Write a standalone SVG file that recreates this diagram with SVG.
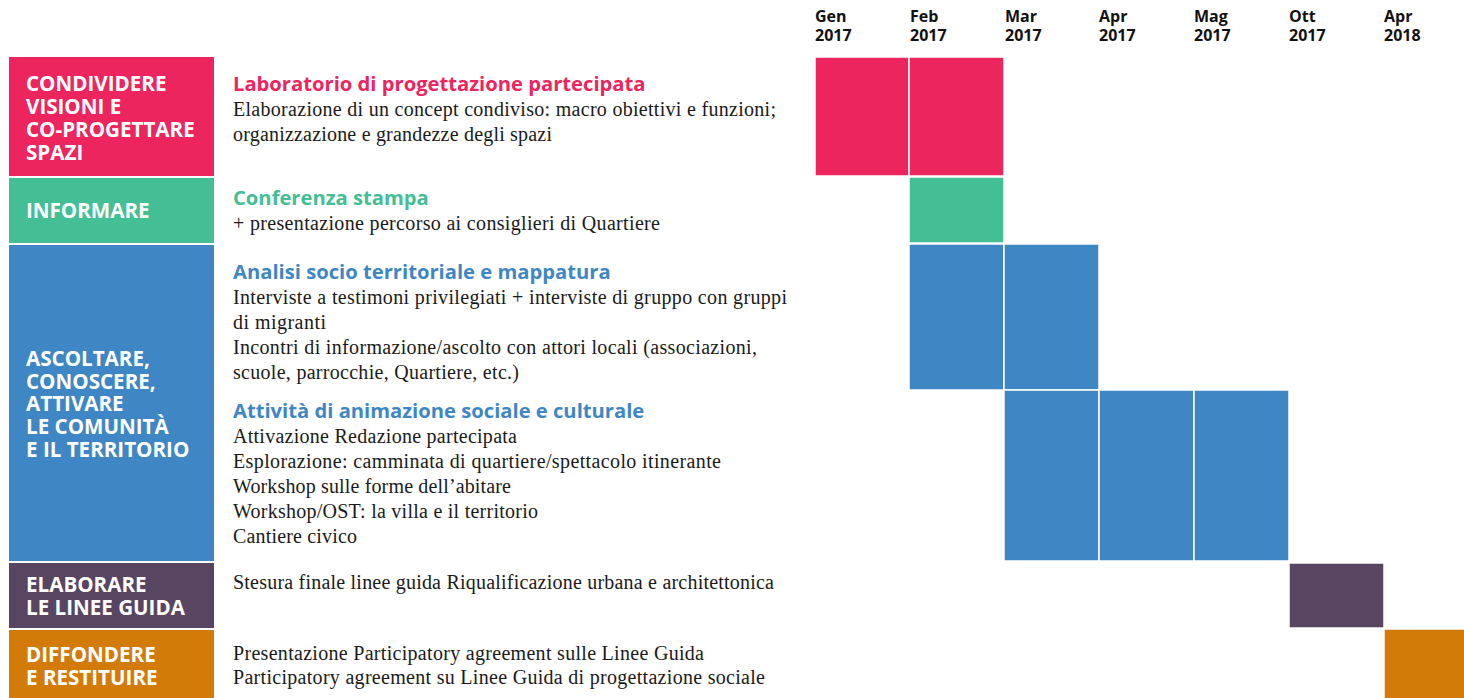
<svg xmlns="http://www.w3.org/2000/svg" width="1464" height="698" viewBox="0 0 1464 698">
<style>
.cat{font-family:"Open Sans","Liberation Sans",sans-serif;font-weight:700;font-size:20.6px;fill:#fff}
.mon{font-family:"Open Sans","Liberation Sans",sans-serif;font-weight:700;font-size:16px;fill:#111}
.hd{font-family:"Open Sans","Liberation Sans",sans-serif;font-weight:700;font-size:20.2px}
.bd{font-family:"Liberation Serif",serif;font-size:20px;fill:#1a1a1a}
.cell{stroke:#fff;stroke-width:1.5}
.pink{fill:#EC255F}.green{fill:#43BE95}.blue{fill:#3F86C4}.purple{fill:#574561}.orange{fill:#D37B09}
</style>
<rect width="1464" height="698" fill="#fff"/>
<g id="months">
<text class="mon" x="815" y="22">Gen</text><text class="mon" x="815" y="41">2017</text>
<text class="mon" x="910" y="22">Feb</text><text class="mon" x="910" y="41">2017</text>
<text class="mon" x="1005" y="22">Mar</text><text class="mon" x="1005" y="41">2017</text>
<text class="mon" x="1099" y="22">Apr</text><text class="mon" x="1099" y="41">2017</text>
<text class="mon" x="1194" y="22">Mag</text><text class="mon" x="1194" y="41">2017</text>
<text class="mon" x="1289" y="22">Ott</text><text class="mon" x="1289" y="41">2017</text>
<text class="mon" x="1384" y="22">Apr</text><text class="mon" x="1384" y="41">2018</text>
</g>
<g id="condividere">
<rect class="pink" x="9" y="57" width="205" height="119"/>
<text class="cat" x="26" y="91">CONDIVIDERE</text>
<text class="cat" x="26" y="114">VISIONI E</text>
<text class="cat" x="26" y="137">CO-PROGETTARE</text>
<text class="cat" x="26" y="160">SPAZI</text>
<text class="hd pink" x="233" y="91">Laboratorio di progettazione partecipata</text>
<text class="bd" x="233" y="116" textLength="543">Elaborazione di un concept condiviso: macro obiettivi e funzioni;</text>
<text class="bd" x="233" y="141" textLength="319">organizzazione e grandezze degli spazi</text>
<rect class="cell pink" x="815" y="57" width="94" height="119"/>
<rect class="cell pink" x="909" y="57" width="95" height="119"/>
</g>
<g id="informare">
<rect class="green" x="9" y="178" width="205" height="65"/>
<text class="cat" x="26" y="218">INFORMARE</text>
<text class="hd green" x="233" y="205">Conferenza stampa</text>
<text class="bd" x="233" y="230" textLength="427">+ presentazione percorso ai consiglieri di Quartiere</text>
<rect class="cell green" x="909" y="177" width="95" height="66"/>
</g>
<g id="ascoltare">
<rect class="blue" x="9" y="245" width="205" height="316"/>
<text class="cat" x="26" y="366">ASCOLTARE,</text>
<text class="cat" x="26" y="389">CONOSCERE,</text>
<text class="cat" x="26" y="411">ATTIVARE</text>
<text class="cat" x="26" y="434">LE COMUNITÀ</text>
<text class="cat" x="26" y="457">E IL TERRITORIO</text>
<text class="hd blue" x="233" y="279">Analisi socio territoriale e mappatura</text>
<text class="bd" x="233" y="304" textLength="554">Interviste a testimoni privilegiati + interviste di gruppo con gruppi</text>
<text class="bd" x="233" y="329" textLength="93">di migranti</text>
<text class="bd" x="233" y="354" textLength="524">Incontri di informazione/ascolto con attori locali (associazioni,</text>
<text class="bd" x="233" y="379" textLength="286">scuole, parrocchie, Quartiere, etc.)</text>
<text class="hd blue" x="233" y="418">Attività di animazione sociale e culturale</text>
<text class="bd" x="233" y="443" textLength="284">Attivazione Redazione partecipata</text>
<text class="bd" x="233" y="468" textLength="488">Esplorazione: camminata di quartiere/spettacolo itinerante</text>
<text class="bd" x="233" y="493" textLength="278">Workshop sulle forme dell’abitare</text>
<text class="bd" x="233" y="518" textLength="305">Workshop/OST: la villa e il territorio</text>
<text class="bd" x="233" y="543" textLength="124">Cantiere civico</text>
<rect class="cell blue" x="909" y="244" width="95" height="146"/>
<rect class="cell blue" x="1004" y="244" width="95" height="146"/>
<rect class="cell blue" x="1004" y="390" width="95" height="171"/>
<rect class="cell blue" x="1099" y="390" width="95" height="171"/>
<rect class="cell blue" x="1194" y="390" width="95" height="171"/>
</g>
<g id="elaborare">
<rect class="purple" x="9" y="563" width="205" height="65"/>
<text class="cat" x="26" y="592">ELABORARE</text>
<text class="cat" x="26" y="615">LE LINEE GUIDA</text>
<text class="bd" x="233" y="589" textLength="541">Stesura finale linee guida Riqualificazione urbana e architettonica</text>
<rect class="cell purple" x="1289" y="563" width="95" height="65"/>
</g>
<g id="diffondere">
<rect class="orange" x="9" y="630" width="205" height="68"/>
<text class="cat" x="26" y="662">DIFFONDERE</text>
<text class="cat" x="26" y="685">E RESTITUIRE</text>
<text class="bd" x="233" y="660" textLength="471">Presentazione Participatory agreement sulle Linee Guida</text>
<text class="bd" x="233" y="684" textLength="532">Participatory agreement su Linee Guida di progettazione sociale</text>
<rect class="cell orange" x="1384" y="629" width="81" height="70"/>
</g>
</svg>
